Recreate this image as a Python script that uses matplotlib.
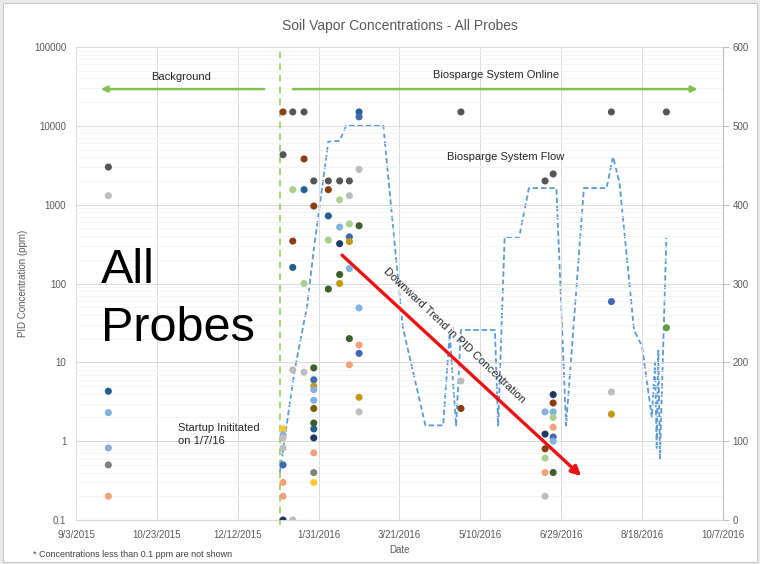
"""Soil vapor PID concentrations for all probes, with biosparge flow on a second axis."""

import matplotlib.dates as mdates
import matplotlib.pyplot as plt
import numpy as np
from matplotlib.patches import Rectangle
from matplotlib.ticker import FixedLocator, FuncFormatter, LogLocator, NullFormatter

plt.rcParams["font.family"] = ["Liberation Sans", "DejaVu Sans"]

# %% Data
probe_names = [
    "SV-1", "SV-2", "SV-3", "SV-4", "SV-5", "SV-6", "SV-7", "SV-8",
    "SV-9", "SV-10", "SV-11", "SV-12", "SV-13", "SV-14", "SV-15", "SV-16",
]
probe_colors = [
    "#555555", "#bdbdbd", "#255e91", "#3f68b5", "#8faadc", "#7fb2df", "#f1a27a", "#c49a12",
    "#ffc72c", "#a9d18e", "#3e5f27", "#8a3d0f", "#7f6000", "#203864", "#7f7f7f", "#5fa040",
]

# one entry per measurement: date, PID reading (ppm), probe
pid_dates = [
    # background
    "2015-09-23", "2015-09-23", "2015-09-23", "2015-09-23", "2015-09-23", "2015-09-23", "2015-09-23",
    # startup
    "2016-01-09", "2016-01-09", "2016-01-09", "2016-01-09", "2016-01-09", "2016-01-09",
    "2016-01-09", "2016-01-09", "2016-01-09", "2016-01-09",
    "2016-01-15", "2016-01-15", "2016-01-15", "2016-01-15", "2016-01-15", "2016-01-15",
    "2016-01-22", "2016-01-22", "2016-01-22", "2016-01-22", "2016-01-22",
    "2016-01-28", "2016-01-28", "2016-01-28", "2016-01-28", "2016-01-28", "2016-01-28", "2016-01-28",
    "2016-01-28", "2016-01-28", "2016-01-28", "2016-01-28", "2016-01-28", "2016-01-28", "2016-01-28",
    "2016-02-06", "2016-02-06", "2016-02-06", "2016-02-06", "2016-02-06",
    "2016-02-13", "2016-02-13", "2016-02-13", "2016-02-13", "2016-02-13", "2016-02-13",
    "2016-02-19", "2016-02-19", "2016-02-19", "2016-02-19", "2016-02-19", "2016-02-19",
    "2016-02-19", "2016-02-19",
    "2016-02-25", "2016-02-25", "2016-02-25", "2016-02-25", "2016-02-25", "2016-02-25",
    "2016-02-25", "2016-02-25", "2016-02-25",
    # later events
    "2016-04-28", "2016-04-28", "2016-04-28",
    "2016-06-19", "2016-06-19", "2016-06-19", "2016-06-19", "2016-06-19", "2016-06-19", "2016-06-19",
    "2016-06-24", "2016-06-24", "2016-06-24", "2016-06-24", "2016-06-24", "2016-06-24",
    "2016-06-24", "2016-06-24", "2016-06-24",
    "2016-07-30", "2016-07-30", "2016-07-30", "2016-07-30",
    "2016-09-02", "2016-09-02",
]
pid_ppm = [
    3000, 1300, 4.3, 2.3, 0.82, 0.5, 0.2,
    15000, 4300, 1.43, 1.2, 1.1, 0.82, 0.5, 0.3, 0.2, 0.1,
    15000, 1550, 345, 160, 8, 0.1,
    15000, 3800, 1550, 100, 7.5,
    2000, 960, 8.5, 6.0, 5.0, 4.5, 3.3, 2.6, 1.7, 1.43, 1.1, 0.71, 0.4, 0.3,
    2000, 1550, 720, 355, 85,
    2000, 1150, 520, 320, 130, 100,
    2000, 1300, 570, 390, 340, 155, 20, 9.3,
    15000, 13000, 2800, 540, 49, 16.6, 13, 3.6, 2.35,
    15000, 5.8, 2.6,
    2000, 2.35, 1.23, 0.8, 0.61, 0.4, 0.2,
    2450, 3.9, 3.05, 2.35, 2.0, 1.5, 1.13, 1.0, 0.4,
    15000, 59, 4.2, 2.2,
    15000, 27.5,
]
pid_probe = [
    "SV-1", "SV-2", "SV-3", "SV-6", "SV-5", "SV-15", "SV-7",
    "SV-12", "SV-1", "SV-9", "SV-5", "SV-2", "SV-2", "SV-4", "SV-7", "SV-7", "SV-14",
    "SV-1", "SV-10", "SV-12", "SV-3", "SV-2", "SV-2",
    "SV-1", "SV-12", "SV-3", "SV-10", "SV-2",
    "SV-1", "SV-12", "SV-11", "SV-4", "SV-8", "SV-5", "SV-6", "SV-13", "SV-11", "SV-3",
    "SV-14", "SV-7", "SV-15", "SV-9",
    "SV-1", "SV-12", "SV-3", "SV-10", "SV-11",
    "SV-1", "SV-10", "SV-6", "SV-14", "SV-11", "SV-8",
    "SV-1", "SV-2", "SV-10", "SV-4", "SV-8", "SV-6", "SV-11", "SV-7",
    "SV-3", "SV-4", "SV-2", "SV-11", "SV-6", "SV-7", "SV-4", "SV-8", "SV-2",
    "SV-1", "SV-2", "SV-12",
    "SV-1", "SV-5", "SV-14", "SV-12", "SV-10", "SV-7", "SV-2",
    "SV-1", "SV-14", "SV-12", "SV-6", "SV-10", "SV-7", "SV-4", "SV-6", "SV-11",
    "SV-1", "SV-4", "SV-2", "SV-8",
    "SV-1", "SV-16",
]

# biosparge system flow (scfm)
flow_dates = [
    "2016-01-07", "2016-01-16", "2016-01-24", "2016-01-28", "2016-02-06", "2016-02-13",
    "2016-02-17", "2016-03-11", "2016-03-20", "2016-03-23", "2016-04-06", "2016-04-17",
    "2016-04-21", "2016-04-25", "2016-04-28", "2016-05-19", "2016-05-21", "2016-05-25",
    "2016-06-03", "2016-06-09", "2016-06-26", "2016-07-02", "2016-07-13", "2016-07-27",
    "2016-07-31", "2016-08-04", "2016-08-13", "2016-08-18", "2016-08-24", "2016-08-26",
    "2016-08-27", "2016-08-28", "2016-08-29", "2016-09-02",
]
flow_scfm = [
    60, 188, 273, 343, 480, 481,
    500, 500, 308, 245, 120, 120,
    237, 120, 241, 241, 120, 359,
    359, 421, 421, 120, 421, 421,
    461, 428, 241, 220, 130, 200,
    90, 215, 78, 358,
]

startup_date = "2016-01-07"
x_start = "2015-09-03"
x_end = "2016-10-07"
conc_ticks = [0.1, 1, 10, 100, 1000, 10000, 100000]
flow_ticks = [0, 100, 200, 300, 400, 500, 600]

gray_text = "#595959"
grid_color = "#d9d9d9"


def date_label(x, pos):
    d = mdates.num2date(x)
    return f"{d.month}/{d.day}/{d.year}"


def main() -> None:
    fig = plt.figure(figsize=(7.6, 5.64), dpi=100, facecolor="#e9e9e9")
    fig.patches.append(
        Rectangle((3 / 760, 2 / 564), 754 / 760, 559 / 564, transform=fig.transFigure,
                  facecolor="white", edgecolor="#c8c8c8", lw=0.8, zorder=-10)
    )

    ax = fig.add_axes([76 / 760, 44 / 564, 647 / 760, 473 / 564])
    ax2 = ax.twinx()
    ax.set_zorder(ax2.get_zorder() + 1)
    ax.patch.set_visible(False)

    # %% Flow (right axis)
    ax2.plot(
        np.array(flow_dates, dtype="datetime64[D]"), flow_scfm,
        color="#5b9bd5", lw=1.3, linestyle=(0, (3, 1.6)),
    )
    ax2.set_ylim(0, 600)
    ax2.yaxis.set_major_locator(FixedLocator(flow_ticks))

    # %% PID concentrations (left axis)
    dates = np.array(pid_dates, dtype="datetime64[D]")
    colors = [probe_colors[probe_names.index(p)] for p in pid_probe]
    ax.scatter(dates, pid_ppm, c=colors, s=26, linewidths=0, zorder=5)

    ax.set_yscale("log")
    ax.set_ylim(0.1, 100000)
    ax.yaxis.set_major_locator(FixedLocator(conc_ticks))
    ax.yaxis.set_major_formatter(FuncFormatter(lambda v, pos: f"{v:g}"))
    ax.yaxis.set_minor_locator(LogLocator(base=10, subs=np.arange(2, 10)))
    ax.yaxis.set_minor_formatter(NullFormatter())

    ax.set_xlim(np.datetime64(x_start), np.datetime64(x_end))
    ax.xaxis.set_major_locator(
        FixedLocator(mdates.date2num(np.arange(np.datetime64(x_start), np.datetime64(x_end) + 1,
                                               np.timedelta64(50, "D"))))
    )
    ax.xaxis.set_major_formatter(FuncFormatter(date_label))

    ax.grid(True, which="major", color=grid_color, lw=0.7)
    ax.grid(True, which="minor", axis="y", color="#f3f3f3", lw=0.6)
    ax.set_axisbelow(True)

    for a in (ax, ax2):
        for side in ("left", "top"):
            a.spines[side].set_visible(False)
        a.spines["bottom"].set_color(grid_color)
        a.spines["right"].set_color("#bfbfbf")
        a.tick_params(labelsize=7, labelcolor=gray_text)
    ax.spines["right"].set_visible(False)
    ax.tick_params(axis="y", which="both", length=0, pad=7)
    ax.tick_params(axis="x", length=0, pad=7)
    ax2.tick_params(axis="y", length=4, color="#bfbfbf", pad=3)

    ax.set_xlabel("Date", fontsize=7, color=gray_text, labelpad=4)
    ax.set_ylabel("PID Concentration (ppm)", fontsize=7, color=gray_text, labelpad=4)
    ax.set_title("Soil Vapor Concentrations - All Probes", fontsize=10, color=gray_text, pad=12)

    # %% Annotations
    ax.axvline(np.datetime64(startup_date), color="#92d050", lw=1.2, linestyle=(0, (4, 3)),
               zorder=3, ymin=-0.01, clip_on=False)

    arrow_green = dict(arrowstyle="-|>", color="#7dc24b", lw=1.8, mutation_scale=9)
    ax.annotate("", xy=(0.034, 0.911), xytext=(0.295, 0.911), xycoords="axes fraction",
                arrowprops=arrow_green)
    ax.annotate("", xy=(0.965, 0.911), xytext=(0.331, 0.911), xycoords="axes fraction",
                arrowprops=arrow_green)
    ax.text(0.163, 0.937, "Background", transform=ax.transAxes, fontsize=8,
            color="#262626", ha="center", va="center")
    ax.text(0.65, 0.941, "Biosparge System Online", transform=ax.transAxes, fontsize=8,
            color="#262626", ha="center", va="center")
    ax.text(0.664, 0.767, "Biosparge System Flow", transform=ax.transAxes, fontsize=8,
            color="#262626", ha="center", va="center")
    ax.text(0.158, 0.18, "Startup Inititated\non 1/7/16", transform=ax.transAxes, fontsize=8,
            color="#262626", ha="left", va="center", linespacing=1.35)

    ax.annotate("", xy=(0.784, 0.089), xytext=(0.408, 0.564), xycoords="axes fraction",
                arrowprops=dict(arrowstyle="-|>", color="#ee1111", lw=2.4, mutation_scale=14))
    ax.text(0.584, 0.39, "Downward Trend in PID Concentration", transform=ax.transAxes,
            fontsize=8, color="#262626", ha="center", va="center", rotation=-43.5,
            rotation_mode="anchor")

    ax.text(0.038, 0.501, "All", transform=ax.transAxes, fontsize=35, color="black",
            ha="left", va="baseline", zorder=6)
    ax.text(0.038, 0.378, "Probes", transform=ax.transAxes, fontsize=35, color="black",
            ha="left", va="baseline", zorder=6)

    fig.text(0.175, 0.016, "* Concentrations less than 0.1 ppm are not shown", fontsize=6.5,
             color="#404040", ha="center", va="center")

    fig.savefig("out.png", dpi=100, facecolor=fig.get_facecolor())


if __name__ == "__main__":
    main()
